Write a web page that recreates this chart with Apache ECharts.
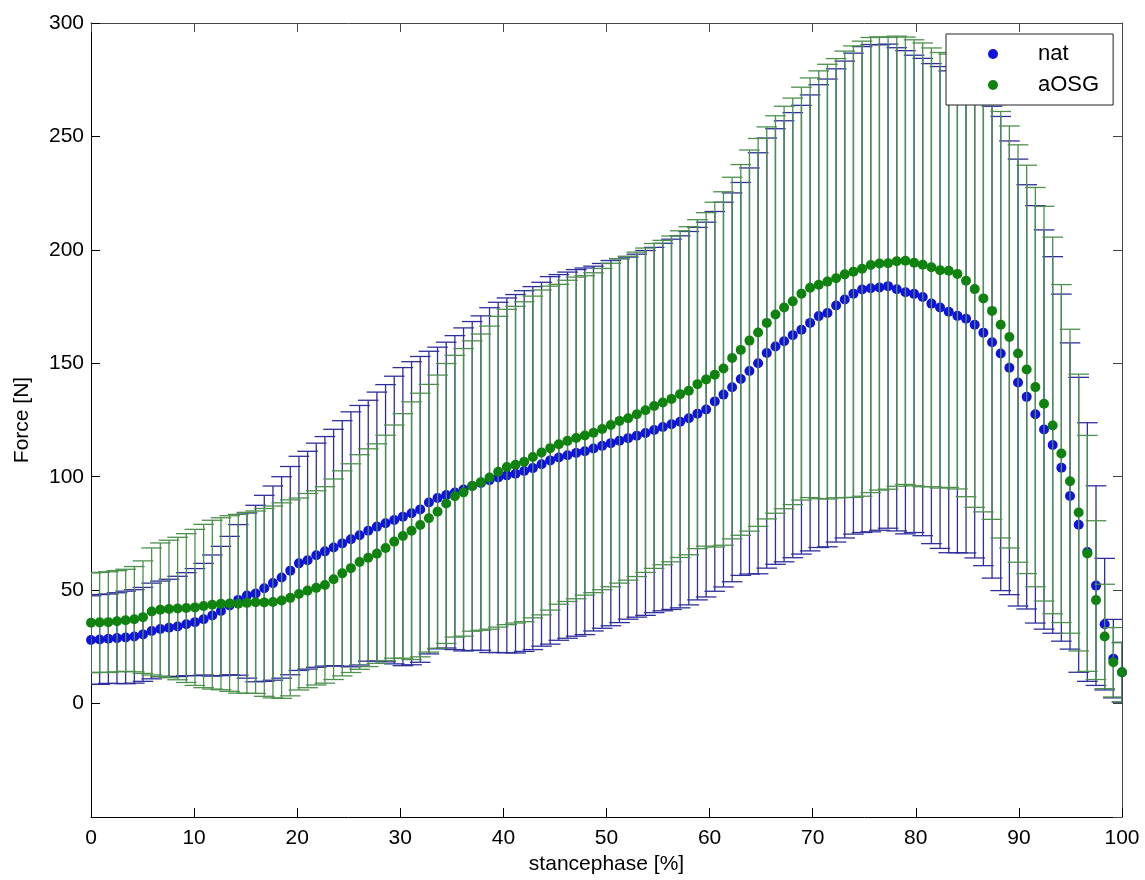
<!DOCTYPE html>
<html>
<head>
<meta charset="utf-8">
<script src="https://cdn.jsdelivr.net/npm/echarts/dist/echarts.min.js"></script>
<style>
html,body{margin:0;padding:0;background:#fff;}
#chart{width:1145px;height:880px;}
</style>
</head>
<body>
<div id="chart"></div>
<script>
// ---- data ----
const sampleCount = 120;                       // samples over the stance phase
const stance = Array.from({length: sampleCount}, (_, k) => +(k * 100 / (sampleCount - 1)).toFixed(3));

const natMean = [
 28.0, 28.25, 28.6, 28.85, 29.15, 29.6, 30.5, 32.0, 32.9, 33.4,
 34.0, 35.0, 35.9, 37.2, 38.8, 40.8, 43.2, 45.7, 47.6, 48.5,
 50.8, 53.1, 55.6, 58.6, 61.8, 63.2, 65.4, 67.1, 68.8, 70.6,
 72.4, 74.2, 76.2, 78.0, 79.5, 80.9, 82.4, 83.9, 85.6, 88.6,
 90.6, 91.9, 93.0, 94.4, 95.9, 97.2, 98.5, 99.7, 100.6, 101.3,
 102.5, 103.8, 105.5, 107.2, 108.5, 109.5, 110.5, 111.2, 112.4, 113.6,
 114.8, 115.9, 117.0, 118.1, 119.3, 120.6, 121.9, 123.1, 124.2, 125.8,
 127.8, 129.6, 133.2, 136.2, 139.4, 143.1, 146.6, 150.0, 154.5, 157.4,
 159.7, 162.4, 164.8, 167.8, 170.8, 172.2, 175.5, 178.1, 180.7, 182.5,
 183.1, 183.4, 184.0, 182.6, 181.3, 180.6, 179.2, 176.3, 174.6, 172.7,
 170.9, 169.6, 167.0, 163.5, 159.3, 154.3, 148.0, 141.5, 135.2, 127.5,
 120.8, 114.0, 104.0, 91.5, 78.8, 66.8, 52.0, 35.0, 19.8, 13.8
];
const natSD = [
 19.5, 19.8, 19.7, 20.0, 20.4, 20.6, 20.7, 21.1, 21.1, 21.4,
 22.1, 22.7, 23.6, 24.6, 26.7, 28.5, 30.5, 33.2, 36.4, 38.9,
 41.0, 42.8, 44.4, 45.9, 47.2, 48.0, 49.4, 50.6, 52.1, 54.1,
 56.2, 57.2, 57.5, 59.3, 61.1, 63.4, 65.7, 66.8, 67.4, 66.7,
 66.5, 67.4, 69.2, 71.2, 72.5, 73.7, 76.0, 77.2, 78.2, 79.0,
 79.5, 80.0, 80.2, 81.0, 80.6, 80.7, 80.8, 80.8, 80.4, 80.4,
 80.5, 80.2, 79.8, 80.0, 80.4, 80.5, 81.0, 81.6, 82.0, 82.3,
 82.1, 82.6, 83.7, 84.8, 85.7, 86.6, 89.5, 92.8, 94.8, 96.0,
 97.2, 98.1, 98.9, 100.5, 102.0, 103.1, 104.3, 105.1, 106.0, 107.1,
 107.4, 107.0, 106.7, 106.5, 106.5, 105.2, 105.2, 105.8, 106.2, 106.2,
 104.4, 103.2, 102.8, 102.7, 104.0, 104.5, 100.0, 98.5, 93.5, 92.0,
 88.0, 83.0, 76.5, 67.5, 65.0, 57.0, 44.0, 29.0, 17.3, 13.2
];
const aosgMean = [
 35.6, 35.8, 35.9, 36.3, 36.7, 37.2, 38.1, 40.6, 41.4, 41.7,
 41.9, 42.1, 42.4, 43.0, 43.6, 44.0, 44.1, 44.0, 44.4, 44.7,
 44.6, 44.8, 45.4, 46.6, 48.3, 49.8, 51.0, 52.3, 54.8, 57.4,
 59.7, 62.4, 64.3, 66.1, 68.6, 71.4, 73.9, 76.2, 78.7, 81.7,
 84.6, 88.2, 91.4, 93.1, 95.9, 97.6, 99.6, 102.2, 104.3, 105.3,
 106.6, 108.7, 110.7, 112.6, 114.3, 115.8, 117.1, 118.2, 119.4, 121.0,
 122.8, 124.6, 125.8, 127.5, 129.3, 131.2, 132.7, 134.3, 136.4, 137.9,
 140.8, 142.9, 145.0, 147.7, 152.3, 155.9, 160.0, 163.6, 167.8, 171.5,
 174.6, 177.3, 180.7, 183.3, 184.6, 186.0, 187.5, 189.2, 190.4, 191.7,
 193.3, 194.0, 194.1, 195.0, 195.2, 194.3, 193.4, 192.3, 191.0, 190.8,
 189.4, 186.4, 182.7, 178.6, 173.1, 167.0, 161.6, 154.3, 147.3, 139.5,
 132.2, 122.6, 110.2, 98.0, 84.2, 66.2, 45.6, 29.6, 18.2, 13.8
];
const aosgSD = [
 22.0, 22.0, 22.2, 22.3, 22.5, 23.2, 24.8, 28.0, 29.4, 30.3,
 31.4, 32.8, 34.4, 36.0, 37.2, 37.9, 38.7, 39.4, 39.9, 40.2,
 41.4, 42.3, 43.1, 43.2, 42.3, 42.8, 42.8, 43.3, 44.2, 45.2,
 46.0, 47.3, 48.0, 48.4, 49.7, 51.4, 53.9, 56.8, 58.1, 59.0,
 60.2, 61.7, 62.1, 63.4, 64.0, 65.3, 66.8, 68.5, 69.5, 69.8,
 70.5, 70.9, 71.6, 71.4, 70.5, 70.8, 70.9, 70.4, 70.5, 70.8,
 71.3, 71.5, 71.4, 71.5, 71.5, 71.6, 71.5, 71.8, 72.0, 72.3,
 72.5, 73.5, 76.0, 77.9, 79.7, 81.7, 84.0, 85.5, 86.4, 87.6,
 88.7, 89.6, 91.0, 92.5, 94.3, 95.8, 96.8, 98.4, 99.5, 100.3,
 100.3, 99.9, 99.6, 99.2, 98.6, 98.3, 97.8, 96.7, 96.0, 95.5,
 94.8, 95.2, 96.2, 94.1, 91.9, 94.0, 93.0, 92.0, 90.0, 88.0,
 87.0, 83.0, 74.5, 67.0, 61.0, 52.0, 35.0, 23.0, 15.3, 13.0
];
const seriesNames = ['nat', 'aOSG'];
const xTickValues = [0, 10, 20, 30, 40, 50, 60, 70, 80, 90, 100];
const yTickValues = [0, 50, 100, 150, 200, 250, 300];

// ---- styling ----
const FONT = 'Liberation Sans, Arial, Helvetica, sans-serif';
const CAP = 1; // half cap width in x units (MATLAB default tee)

function errorBars(mean, sd, color, z) {
  return {
    type: 'custom',
    silent: true,
    clip: true,
    z: z,
    xAxisIndex: 0, yAxisIndex: 0,
    data: stance.map((x, i) => [x, mean[i] - sd[i], mean[i] + sd[i]]),
    encode: {x: 0, y: [1, 2]},
    renderItem: function (params, api) {
      const x = api.value(0), lo = api.value(1), hi = api.value(2);
      const pLo = api.coord([x, lo]);
      const pHi = api.coord([x, hi]);
      const xl = api.coord([x - CAP, lo])[0];
      const xr = api.coord([x + CAP, lo])[0];
      const st = {stroke: color, lineWidth: 1.3, fill: null};
      return {
        type: 'group',
        children: [
          {type: 'line', shape: {x1: pLo[0], y1: pLo[1], x2: pHi[0], y2: pHi[1]}, style: st},
          {type: 'line', shape: {x1: xl, y1: pHi[1], x2: xr, y2: pHi[1]}, style: st},
          {type: 'line', shape: {x1: xl, y1: pLo[1], x2: xr, y2: pLo[1]}, style: st}
        ]
      };
    }
  };
}

function dots(name, mean, color, z) {
  return {
    type: 'scatter',
    name: name,
    z: z,
    symbol: 'circle',
    symbolSize: 10,
    itemStyle: {color: color, opacity: 1},
    data: stance.map((x, i) => [x, mean[i]]),
    emphasis: {disabled: true}
  };
}

const chart = echarts.init(document.getElementById('chart'), null, {renderer: 'canvas'});

const axisText = {fontFamily: FONT, fontSize: 21, color: '#000'};

const option = {
  animation: false,
  backgroundColor: '#fff',
  grid: {left: 91, right: 23, top: 23, bottom: 63, containLabel: false, outerBoundsMode: 'none'},
  legend: {
    data: seriesNames,
    orient: 'vertical',
    left: 946, top: 34,
    padding: [8, 14, 8, 42],
    icon: 'circle',
    itemWidth: 10, itemHeight: 10, itemGap: 7,
    borderColor: '#222', borderWidth: 1, backgroundColor: '#fff',
    selectedMode: false,
    textStyle: {fontFamily: FONT, fontSize: 22, color: '#000', lineHeight: 24, padding: [0, 0, 0, 35]}
  },
  xAxis: [
    {
      type: 'value', min: 0, max: 100, interval: 10, position: 'bottom',
      axisLine: {show: true, onZero: false, lineStyle: {color: '#000', width: 1}},
      axisTick: {show: true, inside: true, length: 9, lineStyle: {color: '#000'}},
      axisLabel: Object.assign({margin: 11, formatter: v => xTickValues.includes(v) ? String(v) : ''}, axisText),
      splitLine: {show: false},
      name: 'stancephase [%]', nameLocation: 'middle', nameGap: 34,
      nameTextStyle: {fontFamily: FONT, fontSize: 21, color: '#000'}
    },
    {
      type: 'value', min: 0, max: 100, interval: 10, position: 'top',
      axisLine: {show: true, onZero: false, lineStyle: {color: '#444', width: 1}},
      axisTick: {show: true, inside: true, length: 9, lineStyle: {color: '#444'}},
      axisLabel: {show: false}, splitLine: {show: false}
    }
  ],
  yAxis: [
    {
      type: 'value', min: -50, max: 300, interval: 50, position: 'left',
      axisLine: {show: true, onZero: false, lineStyle: {color: '#000', width: 1}},
      axisTick: {show: true, inside: true, length: 9, lineStyle: {color: '#000'}},
      axisLabel: Object.assign({margin: 7, formatter: v => yTickValues.includes(v) ? String(v) : ''}, axisText),
      splitLine: {show: false},
      name: 'Force [N]', nameLocation: 'middle', nameGap: 58, nameRotate: 90,
      nameTextStyle: {fontFamily: FONT, fontSize: 21, color: '#000'}
    },
    {
      type: 'value', min: -50, max: 300, interval: 50, position: 'right',
      axisLine: {show: true, onZero: false, lineStyle: {color: '#444', width: 1}},
      axisTick: {show: true, inside: true, length: 9, lineStyle: {color: '#444'}},
      axisLabel: {show: false}, splitLine: {show: false}
    }
  ],
  series: [
    errorBars(natMean, natSD, '#2e2e9c', 1),
    dots(seriesNames[0], natMean, '#1212e0', 2),
    errorBars(aosgMean, aosgSD, '#4c904c', 3),
    dots(seriesNames[1], aosgMean, '#0f820f', 4)
  ]
};
chart.setOption(option);
</script>
</body>
</html>
